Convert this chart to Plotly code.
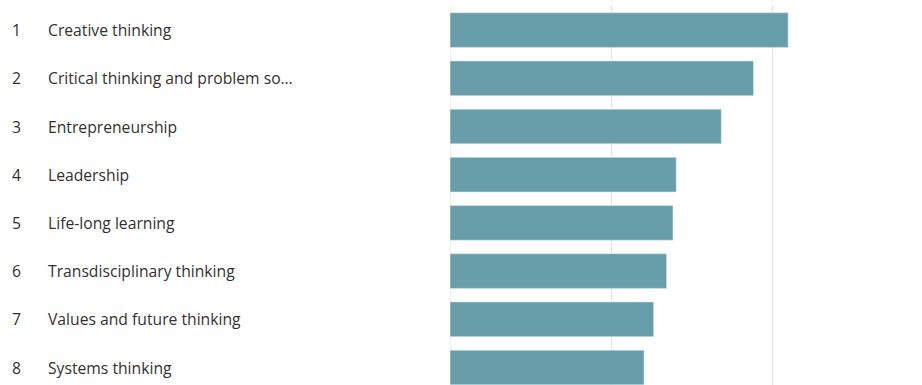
import plotly.graph_objects as go

# Ranked skills and their weighted scores
ranks = [1, 2, 3, 4, 5, 6, 7, 8]
skills = [
    "Creative thinking",
    "Critical thinking and problem so…",
    "Entrepreneurship",
    "Leadership",
    "Life-long learning",
    "Transdisciplinary thinking",
    "Values and future thinking",
    "Systems thinking",
]
scores = [4.20, 3.77, 3.37, 2.81, 2.77, 2.69, 2.53, 2.41]

BAR_COLOR = "#679eaa"
TEXT_COLOR = "#323130"
FONT = "Open Sans, Noto Sans, sans-serif"

PLOT_LEFT = 450
PLOT_WIDTH = 922 - PLOT_LEFT


def px_to_paper(px):
    return (px - PLOT_LEFT) / PLOT_WIDTH


fig = go.Figure(
    go.Bar(
        x=scores,
        y=ranks,
        orientation="h",
        marker=dict(color=BAR_COLOR, line=dict(color="#d6ecef", width=0.6)),
        hoverinfo="skip",
    )
)

# Rank numbers and skill names to the left of the bars
for r, name in zip(ranks, skills):
    fig.add_annotation(
        x=px_to_paper(16), y=r, xref="paper", yref="y",
        text=str(r), showarrow=False, xanchor="center",
        font=dict(family=FONT, size=15.7, color=TEXT_COLOR),
    )
    fig.add_annotation(
        x=px_to_paper(46), y=r, xref="paper", yref="y",
        text=name, showarrow=False, xanchor="left",
        font=dict(family=FONT, size=15.7, color=TEXT_COLOR),
    )

fig.update_layout(
    width=922,
    height=385,
    margin=dict(l=PLOT_LEFT, r=0, t=6, b=0),
    paper_bgcolor="white",
    plot_bgcolor="white",
    bargap=0.28,
    showlegend=False,
    xaxis=dict(
        range=[0, 5.863],
        dtick=2,
        showticklabels=False,
        showgrid=True,
        gridcolor="#e1e1e1",
        gridwidth=1,
        zeroline=True,
        zerolinecolor="#f0f0f0",
        zerolinewidth=1,
        fixedrange=True,
    ),
    yaxis=dict(
        range=[8.363, 0.5],
        showticklabels=False,
        showgrid=False,
        zeroline=False,
        fixedrange=True,
    ),
)

fig.write_html("out.html", config={"displayModeBar": False})
